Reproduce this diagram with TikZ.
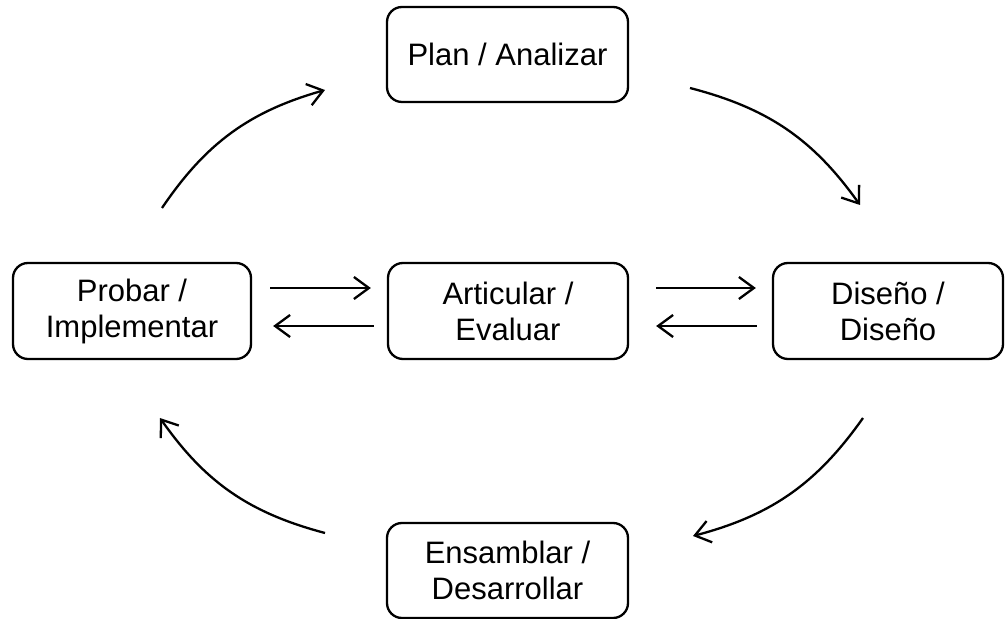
\documentclass[tikz,border=0pt]{standalone}
\usepackage{fontspec}
\setmainfont{Liberation Sans}
\usetikzlibrary{arrows.meta}
\begin{document}
\begin{tikzpicture}[x=1pt,y=1pt,
  box/.style={draw,line width=2.3pt,rounded corners=15pt,align=center,
    font=\fontsize{31}{36}\selectfont,inner sep=0pt},
  arr/.style={line width=2.3pt,-{Straight Barb[length=15pt,width=22pt,line width=2.3pt]}}]
\useasboundingbox (0,0) rectangle (1005,619);
\node[box,minimum width=241pt,minimum height=95pt] (P) at (507.5,564.5) {Plan / Analizar};
\node[box,minimum width=240pt,minimum height=96pt] (A) at (508,308) {Articular /\\Evaluar};
\node[box,minimum width=238pt,minimum height=96pt] (T) at (132,308) {Probar /\\Implementar};
\node[box,minimum width=230pt,minimum height=96pt] (D) at (888,308) {Diseño /\\Diseño};
\node[box,minimum width=241pt,minimum height=95pt] (E) at (507.5,48.5) {Ensamblar /\\Desarrollar};
% horizontal arrows
\draw[arr,shorten <=18pt,shorten >=16pt] (T.east |- 0,331) -- (A.west |- 0,331);
\draw[arr,shorten <=13pt,shorten >=21pt] (A.west |- 0,293) -- (T.east |- 0,293);
\draw[arr,shorten <=27pt,shorten >=16pt] (A.east |- 0,331) -- (D.west |- 0,331);
\draw[arr,shorten <=15pt,shorten >=27pt] (D.west |- 0,293) -- (A.east |- 0,293);
% arcs
\coordinate (tl1) at (162,411); \coordinate (tl2) at (325,529);
\coordinate (tr1) at (690,531); \coordinate (tr2) at (860,414);
\coordinate (br1) at (863,201); \coordinate (br2) at (693,83);
\coordinate (bl1) at (325,86);  \coordinate (bl2) at (160,201);
\draw[arr] (tl1) to[bend left=20] (tl2);
\draw[arr] (tr1) to[bend left=20] (tr2);
\draw[arr] (br1) to[bend left=20] (br2);
\draw[arr] (bl1) to[bend left=20] (bl2);
\end{tikzpicture}
\end{document}
